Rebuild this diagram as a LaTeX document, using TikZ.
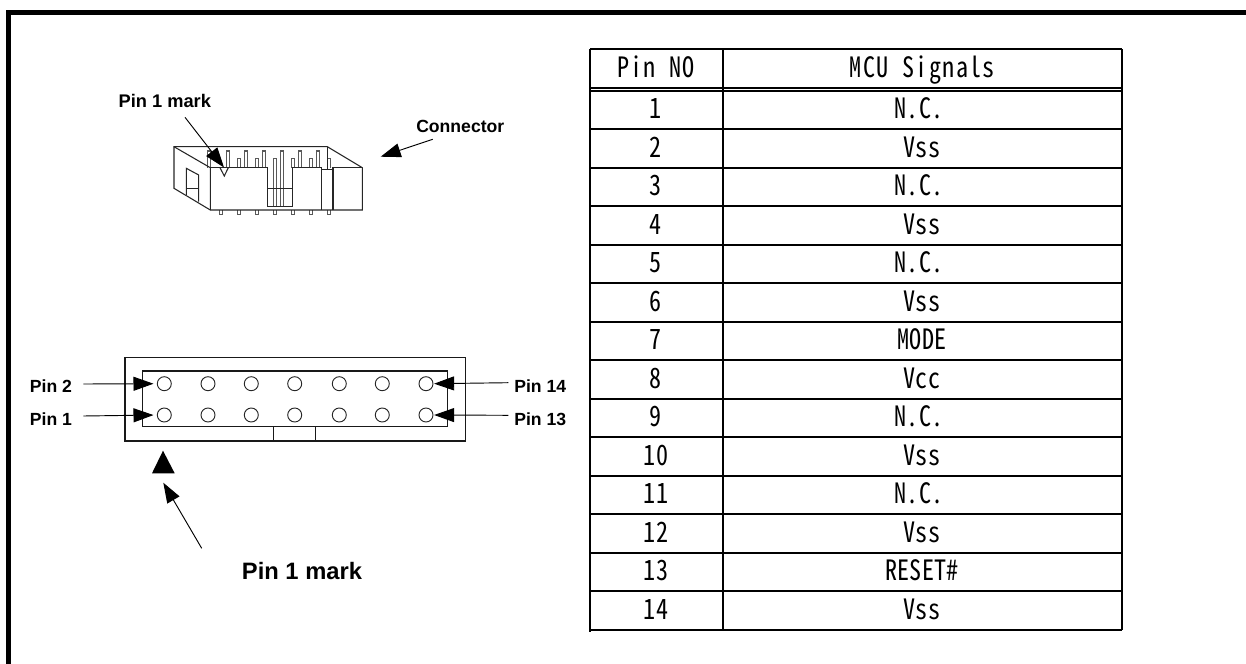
\documentclass[tikz,border=0pt]{standalone}
\usepackage{fontspec}
\usetikzlibrary{arrows.meta}
\setmainfont{Liberation Sans}
\newfontfamily\tblfont[RawFeature=+hwid,FakeStretch=0.86]{Noto Sans CJK JP}
\newfontfamily\hdrfont[RawFeature=+hwid,FakeStretch=0.86,LetterSpace=5]{Noto Sans CJK JP}
\tikzset{
  lab/.style={anchor=base west,inner sep=0pt,font=\bfseries\fontsize{13.2}{15}\selectfont,text=black},
  labbig/.style={lab,font=\bfseries\fontsize{17.8}{20}\selectfont},
  cell/.style={anchor=base,inner sep=0pt,font=\tblfont\fontsize{21}{23}\selectfont,text=black},
  hdr/.style={cell,font=\hdrfont\fontsize{21}{23}\selectfont},
  grid/.style={draw=black,line width=1.4pt},
  thinrule/.style={draw=black,line width=1.05pt},
  frameline/.style={draw=black,line width=3.75pt},
  boxline/.style={draw=black!90,line width=1pt},
  sketch/.style={draw=black!85,line width=0.8pt},
  pinline/.style={draw=black!65,line width=0.8pt,fill=white},
  pointer/.style={draw=black,line width=0.7pt,-{Triangle[length=15pt,width=10.5pt]}},
  hole/.style={draw=black!85,line width=0.7pt,circle,minimum size=10.5pt,inner sep=0pt},
}
\begin{document}
\begin{tikzpicture}[x=0.75pt,y=-0.75pt]
\useasboundingbox (0,0) rectangle (1246,664);
% outer frame
\draw[frameline] (8.5,664) -- (8.5,12.5) -- (1246,12.5);

% connector sketch: pins
\foreach \px in {209.3,227.7,245.7,264,300,318.3}
  \draw[pinline] (\px-1.5,167.7) -- (\px-1.5,151) -- (\px+1.5,151) -- (\px+1.5,167.7);
\draw[pinline] (280.5,206.3) -- (280.5,151) -- (283.5,151) -- (283.5,206.3);
\foreach \px in {239.3,257,293,311,329.3}
  \draw[pinline] (\px-1.5,167.7) -- (\px-1.5,158.7) -- (\px+1.5,158.7) -- (\px+1.5,167.7);
\draw[pinline] (273.5,206.3) -- (273.5,158.7) -- (276.5,158.7) -- (276.5,206.3);
\foreach \px in {221.3,239.3,257.3,275,293,311,329}
  \draw[pinline] (\px-1.5,210) -- (\px-1.5,214.5) -- (\px+1.5,214.5) -- (\px+1.5,210);
% connector sketch: body
\draw[sketch] (174,146.7) -- (327.3,146.7) -- (362.3,167.7) -- (362.3,210) -- (210.3,210) -- (174,188.3) -- cycle;
\draw[sketch] (174,146.7) -- (210.3,167.7) -- (210.3,210);
\draw[sketch] (210.3,167.7) -- (267.7,167.7) -- (267.7,206.3) -- (292.3,206.3) -- (292.3,167.7) -- (321.7,167.7) -- (321.7,210);
\draw[sketch] (267.7,188.7) -- (292.3,188.7);
\draw[sketch] (327.3,146.7) -- (327.3,169.3);
\draw[sketch] (321.7,169.3) -- (333,169.3);
\draw[sketch] (333,210) -- (333,167.7) -- (362.3,167.7);
\draw[sketch] (186.3,195) -- (186.3,168.3) -- (198.7,175) -- (198.7,201.7);
\draw[sketch] (186.3,188.3) -- (198.7,188.3);
\draw[sketch] (220,167.7) -- (224.3,176) -- (228.3,167.7);

% top labels and pointers
\node[lab] (markTop) at (118.3,107.7) {\fontsize{13.7}{15}\selectfont Pin 1 mark};
\node[lab] (connLabel) at (416,132.3) {Connector};
\coordinate (markTopStart) at (185,117.3);
\coordinate (markTopTip) at (224,167.5);
\coordinate (connStart) at (432.7,139.3);
\coordinate (connTip) at (380.7,156.7);
\draw[pointer] (markTopStart) -- (markTopTip);
\draw[pointer] (connStart) -- (connTip);

% header plan view
\draw[boxline] (125,357.3) rectangle (465.7,441);
\draw[boxline] (142.7,371) rectangle (447.3,426.7);
\draw[boxline] (273.7,441) -- (273.7,426.7) -- (315.7,426.7) -- (315.7,441);
\foreach \cx [count=\i] in {164.3,208,251.3,294.7,339.3,382.3,426} {
  \node[hole] (up\i) at (\cx,383.7) {};
  \node[hole] (lo\i) at (\cx,415) {};
}
\node[lab] (pinTwo) at (29.7,392.7) {Pin 2};
\node[lab] (pinOne) at (29.7,425) {Pin 1};
\node[lab] (pinFourteen) at (514,392.7) {Pin 14};
\node[lab] (pinThirteen) at (514,425) {Pin 13};
\coordinate (aS) at (83.3,384);
\coordinate (bS) at (83.3,416);
\coordinate (cS) at (508.3,382.7);
\coordinate (dS) at (508.3,415.3);
\draw[pointer,shorten >=2.5pt] (aS) -- (up1.west);
\draw[pointer,shorten >=2.5pt] (bS) -- (lo1.west);
\draw[pointer,shorten >=0.5pt] (cS) -- (up7.east);
\draw[pointer,shorten >=0.5pt] (dS) -- (lo7.east);

% pin 1 mark below
\fill[black] (163,450.7) -- (174.7,473.3) -- (152,473.3) -- cycle;
\coordinate (markStart) at (201.7,548.3);
\coordinate (markTip) at (163.3,482.7);
\draw[pointer] (markStart) -- (markTip);
\node[labbig] (markBottom) at (241.7,579.3) {Pin 1 mark};

% table
\draw[grid] (590,49.3) -- (1122,49.3);
\draw[thinrule] (590,88) -- (1122,88);
\draw[thinrule] (590,90.8) -- (1122,90.8);
\foreach \r in {1,...,14} {
  \pgfmathsetmacro{\yy}{90.8+\r*38.5}
  \draw[grid] (590,\yy) -- (1122,\yy);
}
\draw[grid] (590,49.3) -- (590,632);
\draw[grid] (722.7,49.3) -- (722.7,630);
\draw[grid] (1122,49.3) -- (1122,630);

\node[hdr] (hPin) at (656,77.5) {Pin NO};
\node[hdr] (hSig) at (922.5,77.5) {MCU Signals};
\foreach \r/\sig/\sx in {1/N.C./919,2/Vss/922,3/N.C./919,4/Vss/922,5/N.C./919,6/Vss/922,7/MODE/922,8/Vcc/922,9/N.C./919,10/Vss/922,11/N.C./919,12/Vss/922,13/RESET\#/922,14/Vss/922} {
  \pgfmathsetmacro{\yb}{90.8+(\r-0.5)*38.5+8.8}
  \node[cell] (n\r) at (656,\yb) {\r};
  \node[cell] (s\r) at (\sx,\yb) {\sig};
}
\end{tikzpicture}
\end{document}
